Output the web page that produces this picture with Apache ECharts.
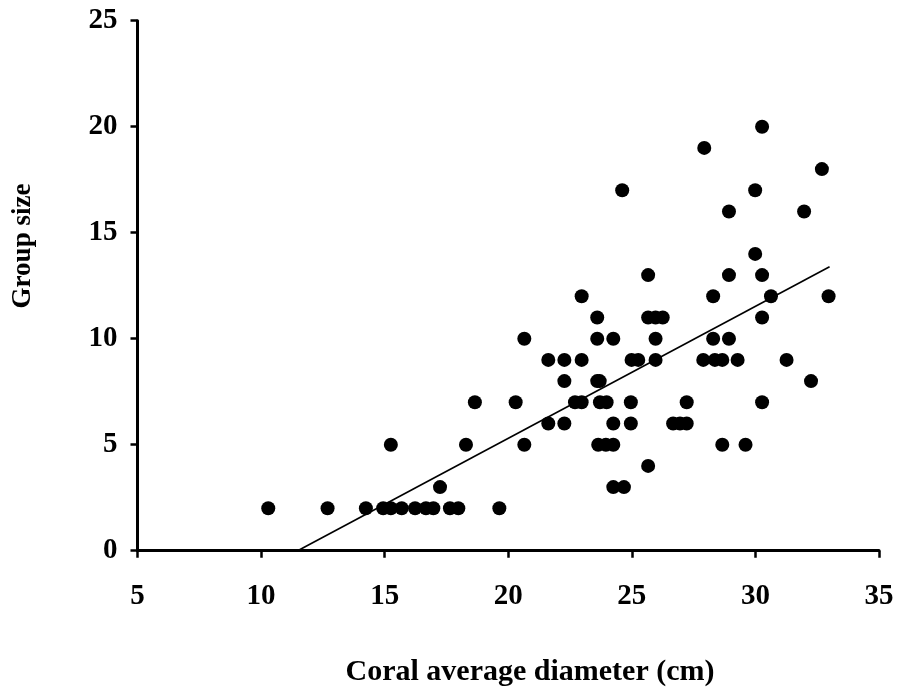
<!DOCTYPE html>
<html>
<head>
<meta charset="utf-8">
<script src="https://cdn.jsdelivr.net/npm/echarts@6/dist/echarts.min.js"></script>
<style>html,body{margin:0;padding:0;background:#fff}#c{width:900px;height:690px}</style>
</head>
<body>
<div id="c"></div>
<script>
// Coral average diameter (cm)
const diameter = [
  10.29, 12.69, 14.24, 14.94, 15.25, 15.69, 16.23, 16.67, 16.97, 17.64, 17.98, 19.64,
  17.24, 24.25, 24.68,
  25.66,
  15.25, 18.29, 20.65, 23.64, 23.95, 24.25, 28.66, 29.60,
  21.62, 22.27, 24.25, 24.96, 26.67, 26.95, 27.22,
  18.65, 20.30, 22.70, 22.97, 23.71, 23.98, 24.96, 27.22, 30.27,
  22.27, 23.60, 23.70, 32.25,
  21.62, 22.27, 22.97, 24.99, 25.26, 25.96, 27.89, 28.36, 28.66, 29.28, 31.26,
  20.65, 23.60, 24.25, 25.96, 28.29, 28.93,
  23.60, 25.66, 25.96, 26.25, 30.27,
  22.97, 28.29, 30.63, 32.96,
  25.66, 28.93, 30.27,
  29.99,
  28.93, 31.97,
  24.61, 29.99,
  32.69,
  27.93,
  30.27
];
// Group size
const groupSize = [
  2, 2, 2, 2, 2, 2, 2, 2, 2, 2, 2, 2,
  3, 3, 3,
  4,
  5, 5, 5, 5, 5, 5, 5, 5,
  6, 6, 6, 6, 6, 6, 6,
  7, 7, 7, 7, 7, 7, 7, 7, 7,
  8, 8, 8, 8,
  9, 9, 9, 9, 9, 9, 9, 9, 9, 9, 9,
  10, 10, 10, 10, 10, 10,
  11, 11, 11, 11, 11,
  12, 12, 12, 12,
  13, 13, 13,
  14,
  16, 16,
  17, 17,
  18,
  19,
  20
];
// Regression line: y = slope * x + intercept, drawn over xRange
const fitSlope = 0.6224;
const fitIntercept = -7.145;
const fitXRange = [11.48, 33.0];

const xTicks = [5, 10, 15, 20, 25, 30, 35];
const yTicks = [0, 5, 10, 15, 20, 25];
const xTitle = 'Coral average diameter (cm)';
const yTitle = 'Group size';

const points = diameter.map((d, i) => [d, groupSize[i]]);
const fitLine = fitXRange.map(x => [x, fitSlope * x + fitIntercept]);

const font = 'Liberation Serif, Times New Roman, serif';
const chart = echarts.init(document.getElementById('c'));
chart.setOption({
  animation: false,
  backgroundColor: '#fff',
  grid: { left: 137.5, right: 21, top: 20.7, bottom: 139.3, containLabel: false },
  graphic: [
    {
      type: 'text', x: 530, y: 672,
      style: { text: xTitle, font: 'bold 30px ' + font, fill: '#000', align: 'center', verticalAlign: 'middle' }
    },
    {
      type: 'text', x: 23, y: 246, rotation: Math.PI / 2,
      style: { text: yTitle, font: 'bold 27px ' + font, fill: '#000', align: 'center', verticalAlign: 'middle' }
    }
  ],
  xAxis: {
    type: 'value', min: xTicks[0], max: xTicks[xTicks.length - 1], interval: 5,
    axisLine: { lineStyle: { color: '#000', width: 3 } },
    axisTick: { show: true, inside: false, length: 7, lineStyle: { color: '#000', width: 2.5 } },
    axisLabel: { fontFamily: font, fontWeight: 'bold', fontSize: 29, color: '#000', margin: 31 },
    splitLine: { show: false }
  },
  yAxis: {
    type: 'value', min: yTicks[0], max: yTicks[yTicks.length - 1], interval: 5,
    axisLine: { show: true, lineStyle: { color: '#000', width: 3 } },
    axisTick: { show: true, inside: false, length: 7, lineStyle: { color: '#000', width: 2.5 } },
    axisLabel: { fontFamily: font, fontWeight: 'bold', fontSize: 29, color: '#000', margin: 20 },
    splitLine: { show: false }
  },
  series: [
    {
      type: 'scatter', data: points, symbol: 'circle', symbolSize: 14,
      itemStyle: { color: '#000', opacity: 1 }
    },
    {
      type: 'line', data: fitLine, symbol: 'none',
      lineStyle: { color: '#000', width: 1.6 }, z: 3
    }
  ]
});
</script>
</body>
</html>
